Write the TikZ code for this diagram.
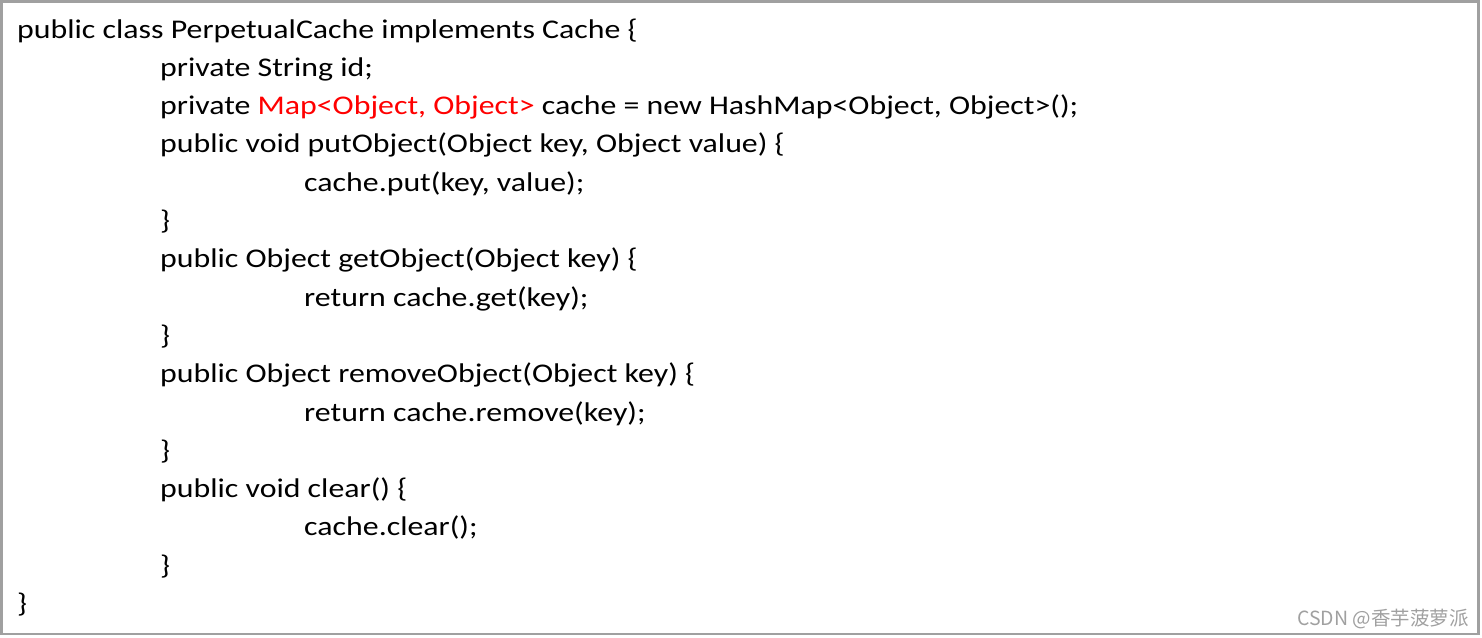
\documentclass[tikz,border=0pt]{standalone}
\usepackage{fontspec}
\setmainfont{Carlito}[FakeStretch=1.18]
\newfontfamily\cjkfont{Noto Sans CJK SC}
\usepackage{xcolor}
\usepackage{tikz}
\definecolor{frame_gray}{HTML}{A0A0A0}
\definecolor{mark_gray}{HTML}{A0A0A0}
\definecolor{type_red}{HTML}{FF0000}
\tikzset{ code_line/.style = {anchor=base west, inner sep=0pt, font=\fontsize{27}{32}\selectfont} }
\tikzset{ mark_text/.style = {anchor=base east, inner sep=0pt, text=mark_gray, font=\cjkfont\fontsize{19.5}{22}\selectfont} }

\begin{document}
\begin{tikzpicture}[x=1pt,y=-1pt]
        \useasboundingbox (0,0) rectangle (1482,637);
        \draw [frame_gray, line width=2.5pt] (1.5,1.5) rectangle (1478.5,634);
                \node [style=code_line] (l1) at (17, 38) {public class PerpetualCache implements Cache \{};
                \node [style=code_line] (l2) at (160, 76.3) {private String id;};
                \node [style=code_line] (l3) at (160, 114.6) {private \textcolor{type_red}{Map<Object, Object>} cache = new HashMap<Object, Object>();};
                \node [style=code_line] (l4) at (160, 152.9) {public void putObject(Object key, Object value) \{};
                \node [style=code_line] (l5) at (304, 191.2) {cache.put(key, value);};
                \node [style=code_line] (l6) at (160, 229.5) {\}};
                \node [style=code_line] (l7) at (160, 267.8) {public Object getObject(Object key) \{};
                \node [style=code_line] (l8) at (304, 306.1) {return cache.get(key);};
                \node [style=code_line] (l9) at (160, 344.4) {\}};
                \node [style=code_line] (l10) at (160, 382.7) {public Object removeObject(Object key) \{};
                \node [style=code_line] (l11) at (304, 421) {return cache.remove(key);};
                \node [style=code_line] (l12) at (160, 459.3) {\}};
                \node [style=code_line] (l13) at (160, 497.6) {public void clear() \{};
                \node [style=code_line] (l14) at (304, 535.9) {cache.clear();};
                \node [style=code_line] (l15) at (160, 574.2) {\}};
                \node [style=code_line] (l16) at (17, 612.5) {\}};
                \node [style=mark_text] (wm) at (1469, 625) {CSDN @香芋菠萝派};
        \end{tikzpicture}
\end{document}
